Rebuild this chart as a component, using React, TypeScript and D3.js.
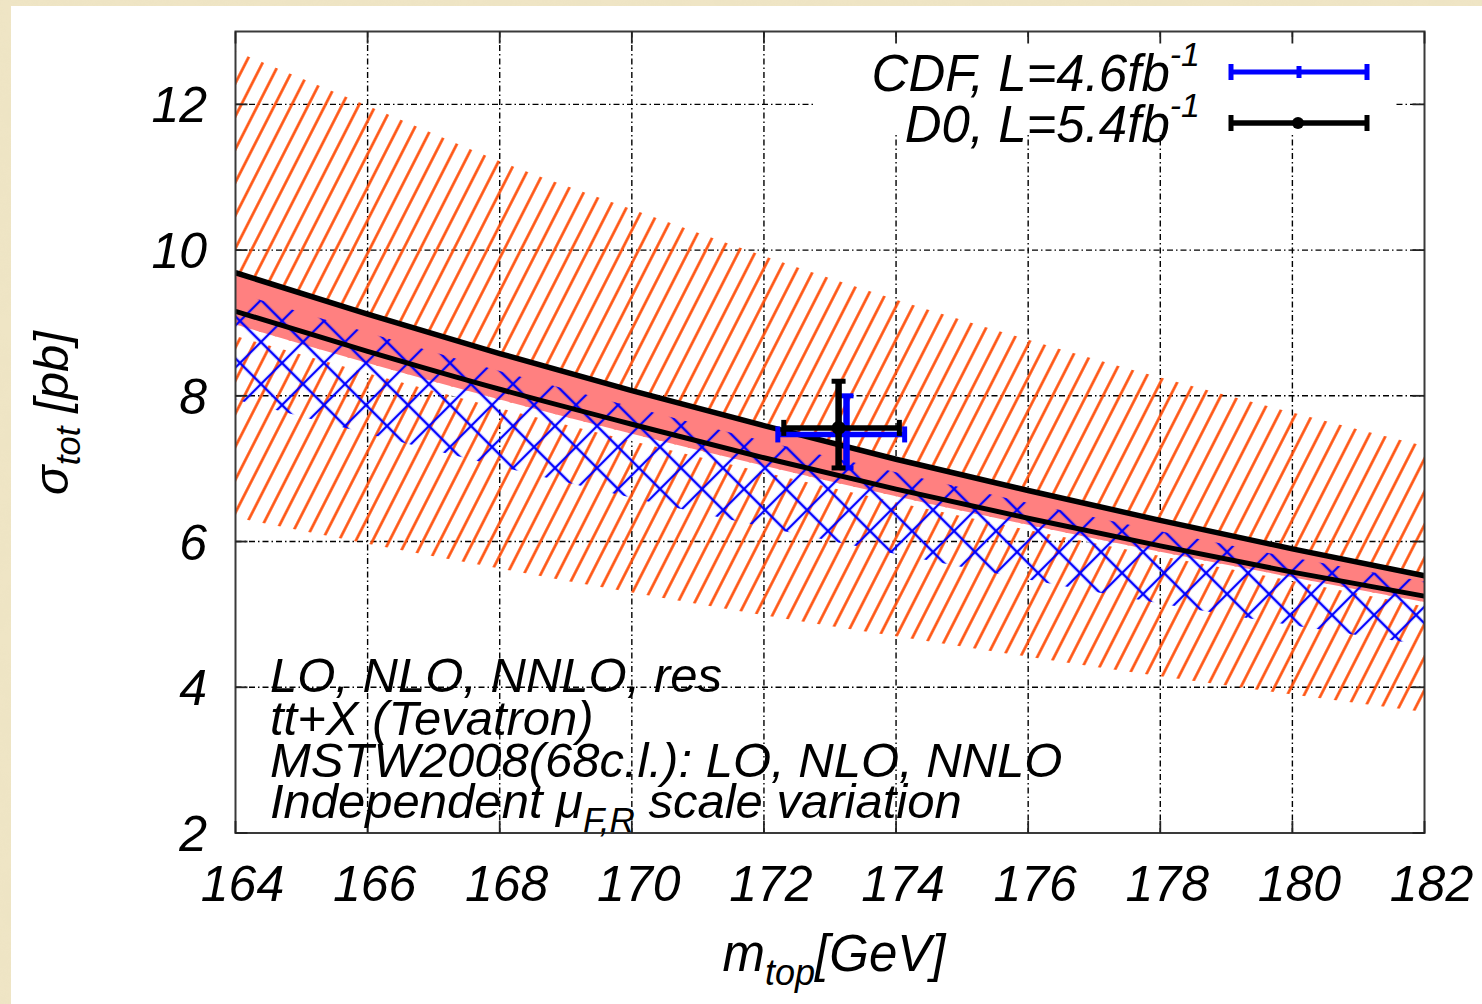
import React from "react";
import * as d3 from "d3";

// ---- data ----
const mTop = [164, 166, 168, 170, 172, 174, 176, 178, 180, 182];
// broad orange hatched band (LO scale variation)
const hatchUpper = [12.73, 11.98, 11.22, 10.56, 9.92, 9.32, 8.77, 8.25, 7.77, 7.31];
const hatchLower = [6.33, 5.97, 5.63, 5.3, 4.99, 4.7, 4.42, 4.15, 3.9, 3.66];
// solid band (NNLO) and its bounding curves
const nnloUpper = [9.69, 9.12, 8.58, 8.07, 7.59, 7.13, 6.7, 6.29, 5.9, 5.53];
const nnloLower = [9.16, 8.61, 8.09, 7.61, 7.15, 6.72, 6.32, 5.94, 5.58, 5.25];
const pinkLower = [8.98, 8.45, 7.95, 7.48, 7.04, 6.62, 6.23, 5.86, 5.51, 5.17];
const whiteLower = [8.82, 8.31, 7.83, 7.38, 6.95, 6.54, 6.16, 5.8, 5.46, 5.11];
// blue cross-hatched band (NLO)
const blueUpper = [9.42, 8.87, 8.34, 7.85, 7.38, 6.95, 6.53, 6.14, 5.78, 5.45];
const blueLower = [7.95, 7.48, 7.03, 6.6, 6.2, 5.83, 5.48, 5.15, 4.85, 4.58];

// measurements: [m, sigma], x-range, y-range
const cdfPoint = [173.25, 7.47];
const cdfXErr = [172.21, 174.13];
const cdfYErr = [7.01, 8.0];
const d0Point = [173.13, 7.56];
const d0XErr = [172.3, 174.05];
const d0YErr = [7.01, 8.2];

const xTicks = [164, 166, 168, 170, 172, 174, 176, 178, 180, 182];
const yTicks = [2, 4, 6, 8, 10, 12];

const annotation = [
  "LO, NLO, NNLO, res",
  "tt+X (Tevatron)",
  "MSTW2008(68c.l.): LO, NLO, NNLO",
];

const W = 1482;
const H = 1004;
const FONT = "'Liberation Sans', Arimo, Arial, Helvetica, sans-serif";

const x = d3.scaleLinear().domain([164, 182]).range([235.5, 1424.5]);
const y = d3.scaleLinear().domain([2, 13]).range([833, 31.5]);

const band = (upper: number[], lower: number[]) =>
  d3
    .area<number>()
    .x((d) => x(d))
    .y0((_, i) => y(lower[i]))
    .y1((_, i) => y(upper[i]))
    .curve(d3.curveMonotoneX)(mTop) as string;

const curve = (vals: number[]) =>
  d3
    .line<number>()
    .x((d) => x(d))
    .y((_, i) => y(vals[i]))
    .curve(d3.curveMonotoneX)(mTop) as string;

function ErrorBar({
  p,
  xe,
  ye,
  color,
  dot,
}: {
  p: number[];
  xe: number[];
  ye: number[];
  color: string;
  dot: boolean;
}) {
  const cx = x(p[0]);
  const cy = y(p[1]);
  return (
    <g stroke={color} fill={color}>
      <line x1={x(xe[0])} x2={x(xe[1])} y1={cy} y2={cy} strokeWidth={5.5} />
      <line x1={cx} x2={cx} y1={y(ye[1])} y2={y(ye[0])} strokeWidth={6.5} />
      <line x1={x(xe[0])} x2={x(xe[0])} y1={cy - 8} y2={cy + 8} strokeWidth={5} />
      <line x1={x(xe[1])} x2={x(xe[1])} y1={cy - 8} y2={cy + 8} strokeWidth={5} />
      <line x1={cx - 7} x2={cx + 7} y1={y(ye[1])} y2={y(ye[1])} strokeWidth={5} />
      <line x1={cx - 7} x2={cx + 7} y1={y(ye[0])} y2={y(ye[0])} strokeWidth={5} />
      {dot && <circle cx={cx} cy={cy} r={7} stroke="none" />}
    </g>
  );
}

export default function App() {
  const x0 = x(164);
  const x1 = x(182);
  const yTop = y(13);
  const yBot = y(2);
  const gridDash = "6,3,1.5,3";
  const tickLen = 12;

  return (
    <svg
      width={W}
      height={H}
      viewBox={`0 0 ${W} ${H}`}
      style={{ position: "absolute", left: 0, top: 0, display: "block" }}
    >
      <defs>
        <filter id="paper" x="0" y="0" width="100%" height="100%">
          <feTurbulence type="fractalNoise" baseFrequency="0.035" numOctaves={3} seed={4} />
          <feColorMatrix
            type="matrix"
            values="0 0 0 0 0.80  0 0 0 0 0.74  0 0 0 0 0.52  0 0 0 0.9 -0.25"
          />
        </filter>
        <pattern
          id="hatch"
          patternUnits="userSpaceOnUse"
          width={15}
          height={40}
          patternTransform="rotate(27)"
        >
          <line x1={7.5} x2={7.5} y1={-2} y2={42} stroke="#ff4f0a" strokeWidth={2.6} />
        </pattern>
        <pattern
          id="cross"
          patternUnits="userSpaceOnUse"
          width={29.7}
          height={29.7}
          patternTransform="translate(240,300) rotate(45)"
        >
          <line x1={14.85} x2={14.85} y1={-1} y2={30.7} stroke="#0000ff" strokeWidth={2.3} />
          <line y1={14.85} y2={14.85} x1={-1} x2={30.7} stroke="#0000ff" strokeWidth={2.3} />
        </pattern>
        <clipPath id="plotClip">
          <rect x={x0} y={yTop} width={x1 - x0} height={yBot - yTop} />
        </clipPath>
      </defs>

      {/* page */}
      <rect x={0} y={0} width={W} height={H} fill="#efe5c5" />
      <rect x={0} y={0} width={W} height={H} filter="url(#paper)" opacity={0.35} />
      <rect x={11} y={6} width={W - 11} height={H - 6} fill="#ffffff" />

      {/* grid */}
      <g stroke="#000" strokeWidth={1.4} strokeDasharray={gridDash}>
        {yTicks
          .filter((t) => t > 2)
          .map((t) => (
            <line key={"gy" + t} x1={x0} x2={x1} y1={y(t)} y2={y(t)} />
          ))}
        {xTicks
          .filter((t) => t > 164 && t < 182)
          .map((t) => (
            <line key={"gx" + t} x1={x(t)} x2={x(t)} y1={yTop} y2={yBot} />
          ))}
      </g>

      <g clipPath="url(#plotClip)">
        <path d={band(hatchUpper, hatchLower)} fill="url(#hatch)" />
        <path d={band(pinkLower, whiteLower)} fill="#ffffff" />
        <path d={band(nnloUpper, pinkLower)} fill="#ff8080" />
        <path d={band(blueUpper, blueLower)} fill="url(#cross)" />
        <path d={curve(nnloUpper)} fill="none" stroke="#000" strokeWidth={5.5} />
        <path d={curve(nnloLower)} fill="none" stroke="#000" strokeWidth={5} />
      </g>

      {/* legend box (opaque) */}
      <rect x={813} y={37} width={582} height={97} fill="#ffffff" />

      {/* frame and ticks */}
      <rect
        x={x0}
        y={yTop}
        width={x1 - x0}
        height={yBot - yTop}
        fill="none"
        stroke="#3a3a3a"
        strokeWidth={2}
      />
      <g stroke="#222" strokeWidth={1.8}>
        {xTicks.map((t) => (
          <g key={"tx" + t}>
            <line x1={x(t)} x2={x(t)} y1={yBot} y2={yBot - tickLen} />
            <line x1={x(t)} x2={x(t)} y1={yTop} y2={yTop + tickLen} />
          </g>
        ))}
        {yTicks.map((t) => (
          <g key={"ty" + t}>
            <line x1={x0} x2={x0 + tickLen} y1={y(t)} y2={y(t)} />
            <line x1={x1} x2={x1 - tickLen} y1={y(t)} y2={y(t)} />
          </g>
        ))}
      </g>

      {/* data */}
      <ErrorBar p={cdfPoint} xe={cdfXErr} ye={cdfYErr} color="#0000ff" dot={false} />
      <ErrorBar p={d0Point} xe={d0XErr} ye={d0YErr} color="#000000" dot={true} />

      {/* tick labels */}
      <g fontFamily={FONT} fontStyle="italic" fontSize={50} fill="#000">
        {xTicks.map((t) => (
          <text key={"lx" + t} x={x(t) + 7} y={901} textAnchor="middle">
            {t}
          </text>
        ))}
        {yTicks.map((t) => (
          <text key={"ly" + t} x={207} y={y(t) + 18} textAnchor="end">
            {t}
          </text>
        ))}
      </g>

      {/* axis titles */}
      <g fontFamily={FONT} fontStyle="italic" fill="#000">
        <text x={834} y={971} textAnchor="middle" fontSize={51}>
          m
          <tspan fontSize={36} dy={14}>
            top
          </tspan>
          <tspan fontSize={51} dy={-14}>
            [GeV]
          </tspan>
        </text>
        <text transform="translate(68,413) rotate(-90)" textAnchor="middle" fontSize={49}>
          σ
          <tspan fontSize={35} dy={12}>
            tot
          </tspan>
          <tspan fontSize={49} dy={-12}>
            {" [pb]"}
          </tspan>
        </text>
      </g>

      {/* legend */}
      <g fontFamily={FONT} fontStyle="italic" fill="#000" fontSize={51}>
        <text x={1200} y={91} textAnchor="end">
          CDF, L=4.6fb
          <tspan fontSize={34} dy={-25}>
            -1
          </tspan>
        </text>
        <text x={1200} y={142} textAnchor="end">
          D0, L=5.4fb
          <tspan fontSize={34} dy={-25}>
            -1
          </tspan>
        </text>
      </g>
      <g stroke="#0000ff">
        <line x1={1231} x2={1367} y1={72} y2={72} strokeWidth={5} />
        <line x1={1231} x2={1231} y1={64} y2={80} strokeWidth={5} />
        <line x1={1367} x2={1367} y1={64} y2={80} strokeWidth={5} />
        <line x1={1299} x2={1299} y1={66} y2={78} strokeWidth={5} />
      </g>
      <g stroke="#000">
        <line x1={1231} x2={1367} y1={123} y2={123} strokeWidth={5.5} />
        <line x1={1231} x2={1231} y1={115} y2={131} strokeWidth={5} />
        <line x1={1367} x2={1367} y1={115} y2={131} strokeWidth={5} />
        <circle cx={1298} cy={123} r={6} fill="#000" stroke="none" />
      </g>

      {/* annotation */}
      <g fontFamily={FONT} fontStyle="italic" fill="#000" fontSize={49}>
        {annotation.map((s, i) => (
          <text key={"an" + i} x={270} y={692 + i * 42.5}>
            {s}
          </text>
        ))}
        <text x={270} y={818}>
          Independent μ
          <tspan fontSize={35} dy={14}>
            F,R
          </tspan>
          <tspan fontSize={49} dy={-14}>
            {" scale variation"}
          </tspan>
        </text>
      </g>
    </svg>
  );
}
